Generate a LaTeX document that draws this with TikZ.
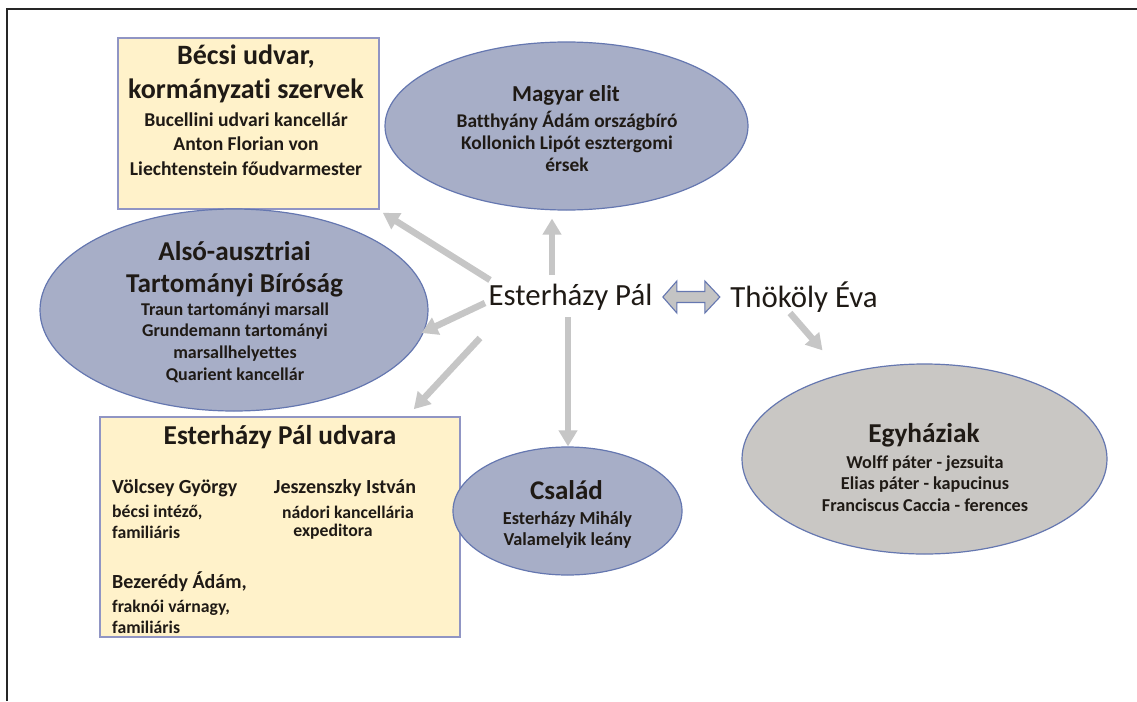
\documentclass[tikz,border=0pt]{standalone}
\usepackage{fontspec}
\setmainfont{Carlito}[Ligatures=NoCommon]
\usetikzlibrary{shapes.geometric,calc,arrows.meta}
\definecolor{boxfill}{HTML}{FFF2CA}
\definecolor{boxline}{HTML}{9095C4}
\definecolor{ellfill}{HTML}{A7AEC7}
\definecolor{ellline}{HTML}{6577B0}
\definecolor{grayfill}{HTML}{C9C7C4}
\definecolor{arrgray}{HTML}{C6C6C6}
\definecolor{dblfill}{HTML}{C4C4C4}
\definecolor{txt}{HTML}{1F1A15}
\newcommand{\fs}[2]{\fontsize{#1}{#2}\selectfont}
\begin{document}
\begin{tikzpicture}[x=1pt,y=-1pt,
  ybox/.style={draw=boxline,line width=1.6pt,fill=boxfill,rectangle,inner sep=0pt},
  bell/.style={draw=ellline,line width=1.2pt,fill=ellfill,ellipse,inner sep=0pt},
  gell/.style={draw=ellline,line width=1.2pt,fill=grayfill,ellipse,inner sep=0pt},
  lbl/.style={text=txt,inner sep=0pt,align=center,font=\bfseries},
  lbll/.style={text=txt,inner sep=0pt,align=left,anchor=west,font=\bfseries},
  main/.style={text=txt,inner sep=0pt},
  arr/.style={draw=arrgray,line width=6.5pt,-{Triangle[length=16pt,width=18pt]}},
]
\useasboundingbox (0,0) rectangle (1137,701);
\fill[white] (0,0) rectangle (1137,701);
\coordinate (fA) at (7,701);
\coordinate (fB) at (7,9);
\coordinate (fC) at (1137,9);
\draw[line width=1.3pt,black!85] (fA) -- (fB) -- (fC);

% shapes
\node[ybox,minimum width=261,minimum height=171] (becsi) at (248.5,123.5) {};
\node[bell,minimum width=363,minimum height=168] (magyar) at (566.5,126) {};
\node[bell,minimum width=388,minimum height=202] (also) at (234,310) {};
\node[ybox,minimum width=360,minimum height=220] (udvara) at (280,527) {};
\node[bell,minimum width=229,minimum height=128] (csalad) at (567.5,511) {};
\node[gell,minimum width=365,minimum height=190] (egyhaz) at (924.5,459) {};

% texts
\node[lbl,font=\bfseries\fs{28}{34}] (becsiT) at (246,74) {Bécsi udvar,\\kormányzati szervek};
\node[lbl,font=\bfseries\fs{19.6}{24.5}] (becsiS) at (246,144) {Bucellini udvari kancellár\\Anton Florian von\\Liechtenstein főudvarmester};

\node[lbl,font=\bfseries\fs{22.8}{27}] (magyarT) at (566,95) {Magyar elit};
\node[lbl,font=\bfseries\fs{19.4}{22}] (magyarS) at (567,141) {Batthyány Ádám országbíró\\Kollonich Lipót esztergomi\\érsek};

\node[lbl,font=\bfseries\fs{27.2}{32}] (alsoT) at (234.5,269) {Alsó-ausztriai\\Tartományi Bíróság};
\node[lbl,font=\bfseries\fs{18}{21.7}] (alsoS) at (235,342.5) {Traun tartományi marsall\\Grundemann tartományi\\marsallhelyettes\\Quarient kancellár};

\node[lbl,font=\bfseries\fs{27.3}{32}] (udvaraT) at (280,437) {Esterházy Pál udvara};
\node[lbll,font=\bfseries\fs{20}{24}] (volT) at (112,488) {Völcsey György};
\node[lbll,font=\bfseries\fs{17.7}{20.5}] (volS) at (112,522) {bécsi intéző,\\familiáris};
\node[lbll,font=\bfseries\fs{20}{24}] (bezT) at (112,582) {Bezerédy Ádám,};
\node[lbll,font=\bfseries\fs{17.7}{21}] (bezS) at (112,616.5) {fraknói várnagy,\\familiáris};
\node[lbl,font=\bfseries\fs{20}{24}] (jesT) at (345,488) {Jeszenszky István};
\node[lbl,font=\bfseries\fs{17.7}{20.5}] (jesS) at (348,512) {nádori kancellária};
\node[lbl,font=\bfseries\fs{17.7}{20.5}] (jesS2) at (333,532) {expeditora};

\node[lbl,font=\bfseries\fs{27}{30}] (csaladT) at (566.5,490) {Család};
\node[lbl,font=\bfseries\fs{18.3}{20.5}] (csaladS) at (567.5,530) {Esterházy Mihály\\Valamelyik leány};

\node[lbl,font=\bfseries\fs{27.3}{32}] (egyhazT) at (924,435) {Egyháziak};
\node[lbl,font=\bfseries\fs{18.2}{21.5}] (egyhazS) at (925,483.5) {Wolff páter - jezsuita\\Elias páter - kapucinus\\Franciscus Caccia - ferences};

\node[main,font=\fs{30.8}{36}] (ep) at (570.5,297) {Esterházy Pál};
\node[main,font=\fs{30.8}{36}] (th) at (804,297) {Thököly Éva};

% arrows
\draw[arr] ($(ep.center)+(-80.5,-17)$) -- ($(becsi.south east)+(3,3)$);
\draw[arr] ($(ep.center)+(-18.5,-22)$) -- ($(magyar.south)+(-14.5,8)$);
\draw[arr] ($(ep.center)+(-85.5,6)$) -- ($(also.east)+(-7,23)$);
\draw[arr] ($(ep.center)+(-90.5,41)$) -- ($(udvara.north east)+(-47,-7)$);
\draw[arr] ($(ep.center)+(-2.5,20)$) -- ($(csalad.north)+(0.5,0)$);
\draw[arr] ($(th.center)+(-14,16)$) -- ($(egyhaz.north)+(-102,-13)$);

% double arrow
\coordinate (dbl) at ($(ep.east)!0.5!(th.west)$);
\draw[draw=ellline,line width=1.1pt,fill=dblfill,line join=miter]
  ($(dbl)+(-28.5,0)$) -- ($(dbl)+(-14.5,-16)$) -- ($(dbl)+(-14.5,-5.5)$) --
  ($(dbl)+(13.5,-5.5)$) -- ($(dbl)+(13.5,-16)$) -- ($(dbl)+(28.5,0)$) --
  ($(dbl)+(13.5,16)$) -- ($(dbl)+(13.5,5.5)$) -- ($(dbl)+(-14.5,5.5)$) --
  ($(dbl)+(-14.5,16)$) -- cycle;
\end{tikzpicture}
\end{document}
